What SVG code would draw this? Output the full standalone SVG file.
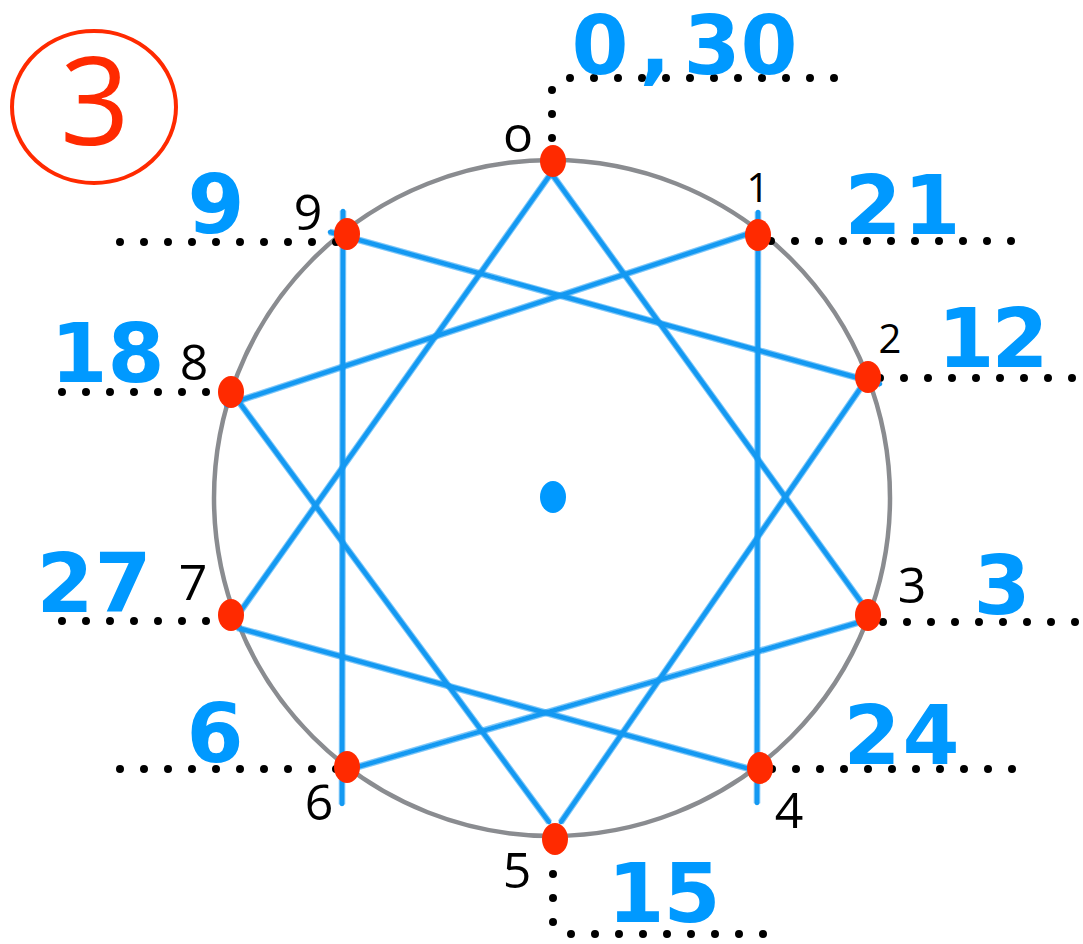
<svg xmlns="http://www.w3.org/2000/svg" xmlns:xlink="http://www.w3.org/1999/xlink" width="1083" height="944" viewBox="0 0 1083 944">
<style>
.dots{stroke:#000;stroke-width:8;stroke-linecap:round;stroke-dasharray:0 24;fill:none}
.pt{fill:#ff2a00}
.lbl{font-family:"Open Sans","Noto Sans",sans-serif;font-size:50px;fill:#000;text-anchor:middle}
.sm{font-size:40px}
.val{font-family:"DejaVu Sans","Liberation Sans",sans-serif;font-weight:bold;font-size:82px;fill:#0099ff;text-anchor:middle}
.ln{stroke:#1499f2;stroke-width:4.5;stroke-linecap:round;fill:none}
.ln2{stroke:#1499f2;stroke-width:1.6;stroke-linecap:round;fill:none;opacity:0.55}
</style>
<rect width="1083" height="944" fill="#fff"/>
<g id="badge">
<ellipse cx="94" cy="107" rx="82" ry="76" fill="none" stroke="#ff2a00" stroke-width="4"/>
<text x="95" y="145" font-family="Open Sans, Noto Sans, sans-serif" font-size="122" fill="#ff2a00" text-anchor="middle">3</text>
</g>
<g id="ring">
<circle cx="552" cy="498" r="338" fill="none" stroke="#8a8c90" stroke-width="4.5"/>
<ellipse cx="553" cy="497" rx="13" ry="16" fill="#0099ff"/>
</g>
<g id="leaders">
<path class="dots" d="M552,138V89"/>
<path class="dots" d="M570,78H836"/>
<path class="dots" d="M120,242H338"/>
<path class="dots" d="M771,241H1013"/>
<path class="dots" d="M62,392H208"/>
<path class="dots" d="M880,378H1074"/>
<path class="dots" d="M62,621H208"/>
<path class="dots" d="M883,622H1077"/>
<path class="dots" d="M120,769H338"/>
<path class="dots" d="M772,769H1014"/>
<path class="dots" d="M553,874V924"/>
<path class="dots" d="M571,934H765"/>
</g>
<defs>
<path id="c03" d="M546,166L864,606"/>
<path id="c36" d="M874,618L340,772"/>
<path id="c69" d="M342,804L343,211"/>
<path id="c92" d="M330,232L880,384"/>
<path id="c25" d="M862,386L561,822"/>
<path id="c58" d="M549,822L236,398"/>
<path id="c81" d="M226,405L766,228"/>
<path id="c14" d="M758,212L757,803"/>
<path id="c47" d="M768,774L238,628"/>
<path id="c70" d="M240,612L557,165"/>
</defs>
<g id="connectors">
<use xlink:href="#c03" class="ln"/><use xlink:href="#c03" class="ln2" transform="translate(2,-1.5)"/><use xlink:href="#c03" class="ln2" transform="translate(-2,1.5)"/>
<use xlink:href="#c36" class="ln"/><use xlink:href="#c36" class="ln2" transform="translate(1,2.5)"/><use xlink:href="#c36" class="ln2" transform="translate(-1,-2.5)"/>
<use xlink:href="#c69" class="ln"/><use xlink:href="#c69" class="ln2" transform="translate(2.5,0)"/><use xlink:href="#c69" class="ln2" transform="translate(-2.5,0)"/>
<use xlink:href="#c92" class="ln"/><use xlink:href="#c92" class="ln2" transform="translate(0.8,-2.5)"/><use xlink:href="#c92" class="ln2" transform="translate(-0.8,2.5)"/>
<use xlink:href="#c25" class="ln"/><use xlink:href="#c25" class="ln2" transform="translate(2,1.5)"/><use xlink:href="#c25" class="ln2" transform="translate(-2,-1.5)"/>
<use xlink:href="#c58" class="ln"/><use xlink:href="#c58" class="ln2" transform="translate(2,-1.5)"/><use xlink:href="#c58" class="ln2" transform="translate(-2,1.5)"/>
<use xlink:href="#c81" class="ln"/><use xlink:href="#c81" class="ln2" transform="translate(0.8,2.5)"/><use xlink:href="#c81" class="ln2" transform="translate(-0.8,-2.5)"/>
<use xlink:href="#c14" class="ln"/><use xlink:href="#c14" class="ln2" transform="translate(2.5,0)"/><use xlink:href="#c14" class="ln2" transform="translate(-2.5,0)"/>
<use xlink:href="#c47" class="ln"/><use xlink:href="#c47" class="ln2" transform="translate(0.8,-2.5)"/><use xlink:href="#c47" class="ln2" transform="translate(-0.8,2.5)"/>
<use xlink:href="#c70" class="ln"/><use xlink:href="#c70" class="ln2" transform="translate(2,1.5)"/><use xlink:href="#c70" class="ln2" transform="translate(-2,-1.5)"/>
</g>
<g id="p0"><ellipse class="pt" cx="553" cy="161" rx="13" ry="16"/><text class="lbl" x="518" y="152" font-size="46">o</text><text class="val" x="600 655 712 769" y="74">0,30</text></g>
<g id="p1"><ellipse class="pt" cx="758" cy="235" rx="13" ry="16"/><text class="lbl sm" x="758" y="202">1</text><text class="val" x="873 932" y="234">21</text></g>
<g id="p2"><ellipse class="pt" cx="868" cy="377" rx="13" ry="16"/><text class="lbl sm" x="890" y="353">2</text><text class="val" x="966 1020" y="367">12</text></g>
<g id="p3"><ellipse class="pt" cx="868" cy="615" rx="13" ry="16"/><text class="lbl" x="912" y="603">3</text><text class="val" x="1002" y="614">3</text></g>
<g id="p4"><ellipse class="pt" cx="760" cy="768" rx="13" ry="16"/><text class="lbl" x="789" y="828">4</text><text class="val" x="872 931" y="764">24</text></g>
<g id="p5"><ellipse class="pt" cx="555" cy="839" rx="13" ry="16"/><text class="lbl" x="517" y="888">5</text><text class="val" x="636 692" y="922">15</text></g>
<g id="p6"><ellipse class="pt" cx="347" cy="767" rx="13" ry="16"/><text class="lbl" x="319" y="820">6</text><text class="val" x="215" y="762">6</text></g>
<g id="p7"><ellipse class="pt" cx="231" cy="615" rx="13" ry="16"/><text class="lbl" x="193" y="600">7</text><text class="val" x="65 123" y="612">27</text></g>
<g id="p8"><ellipse class="pt" cx="231" cy="392" rx="13" ry="16"/><text class="lbl" x="194" y="380">8</text><text class="val" x="79 136" y="382">18</text></g>
<g id="p9"><ellipse class="pt" cx="347" cy="234" rx="13" ry="16"/><text class="lbl" x="308" y="230">9</text><text class="val" x="216" y="233">9</text></g>
</svg>
